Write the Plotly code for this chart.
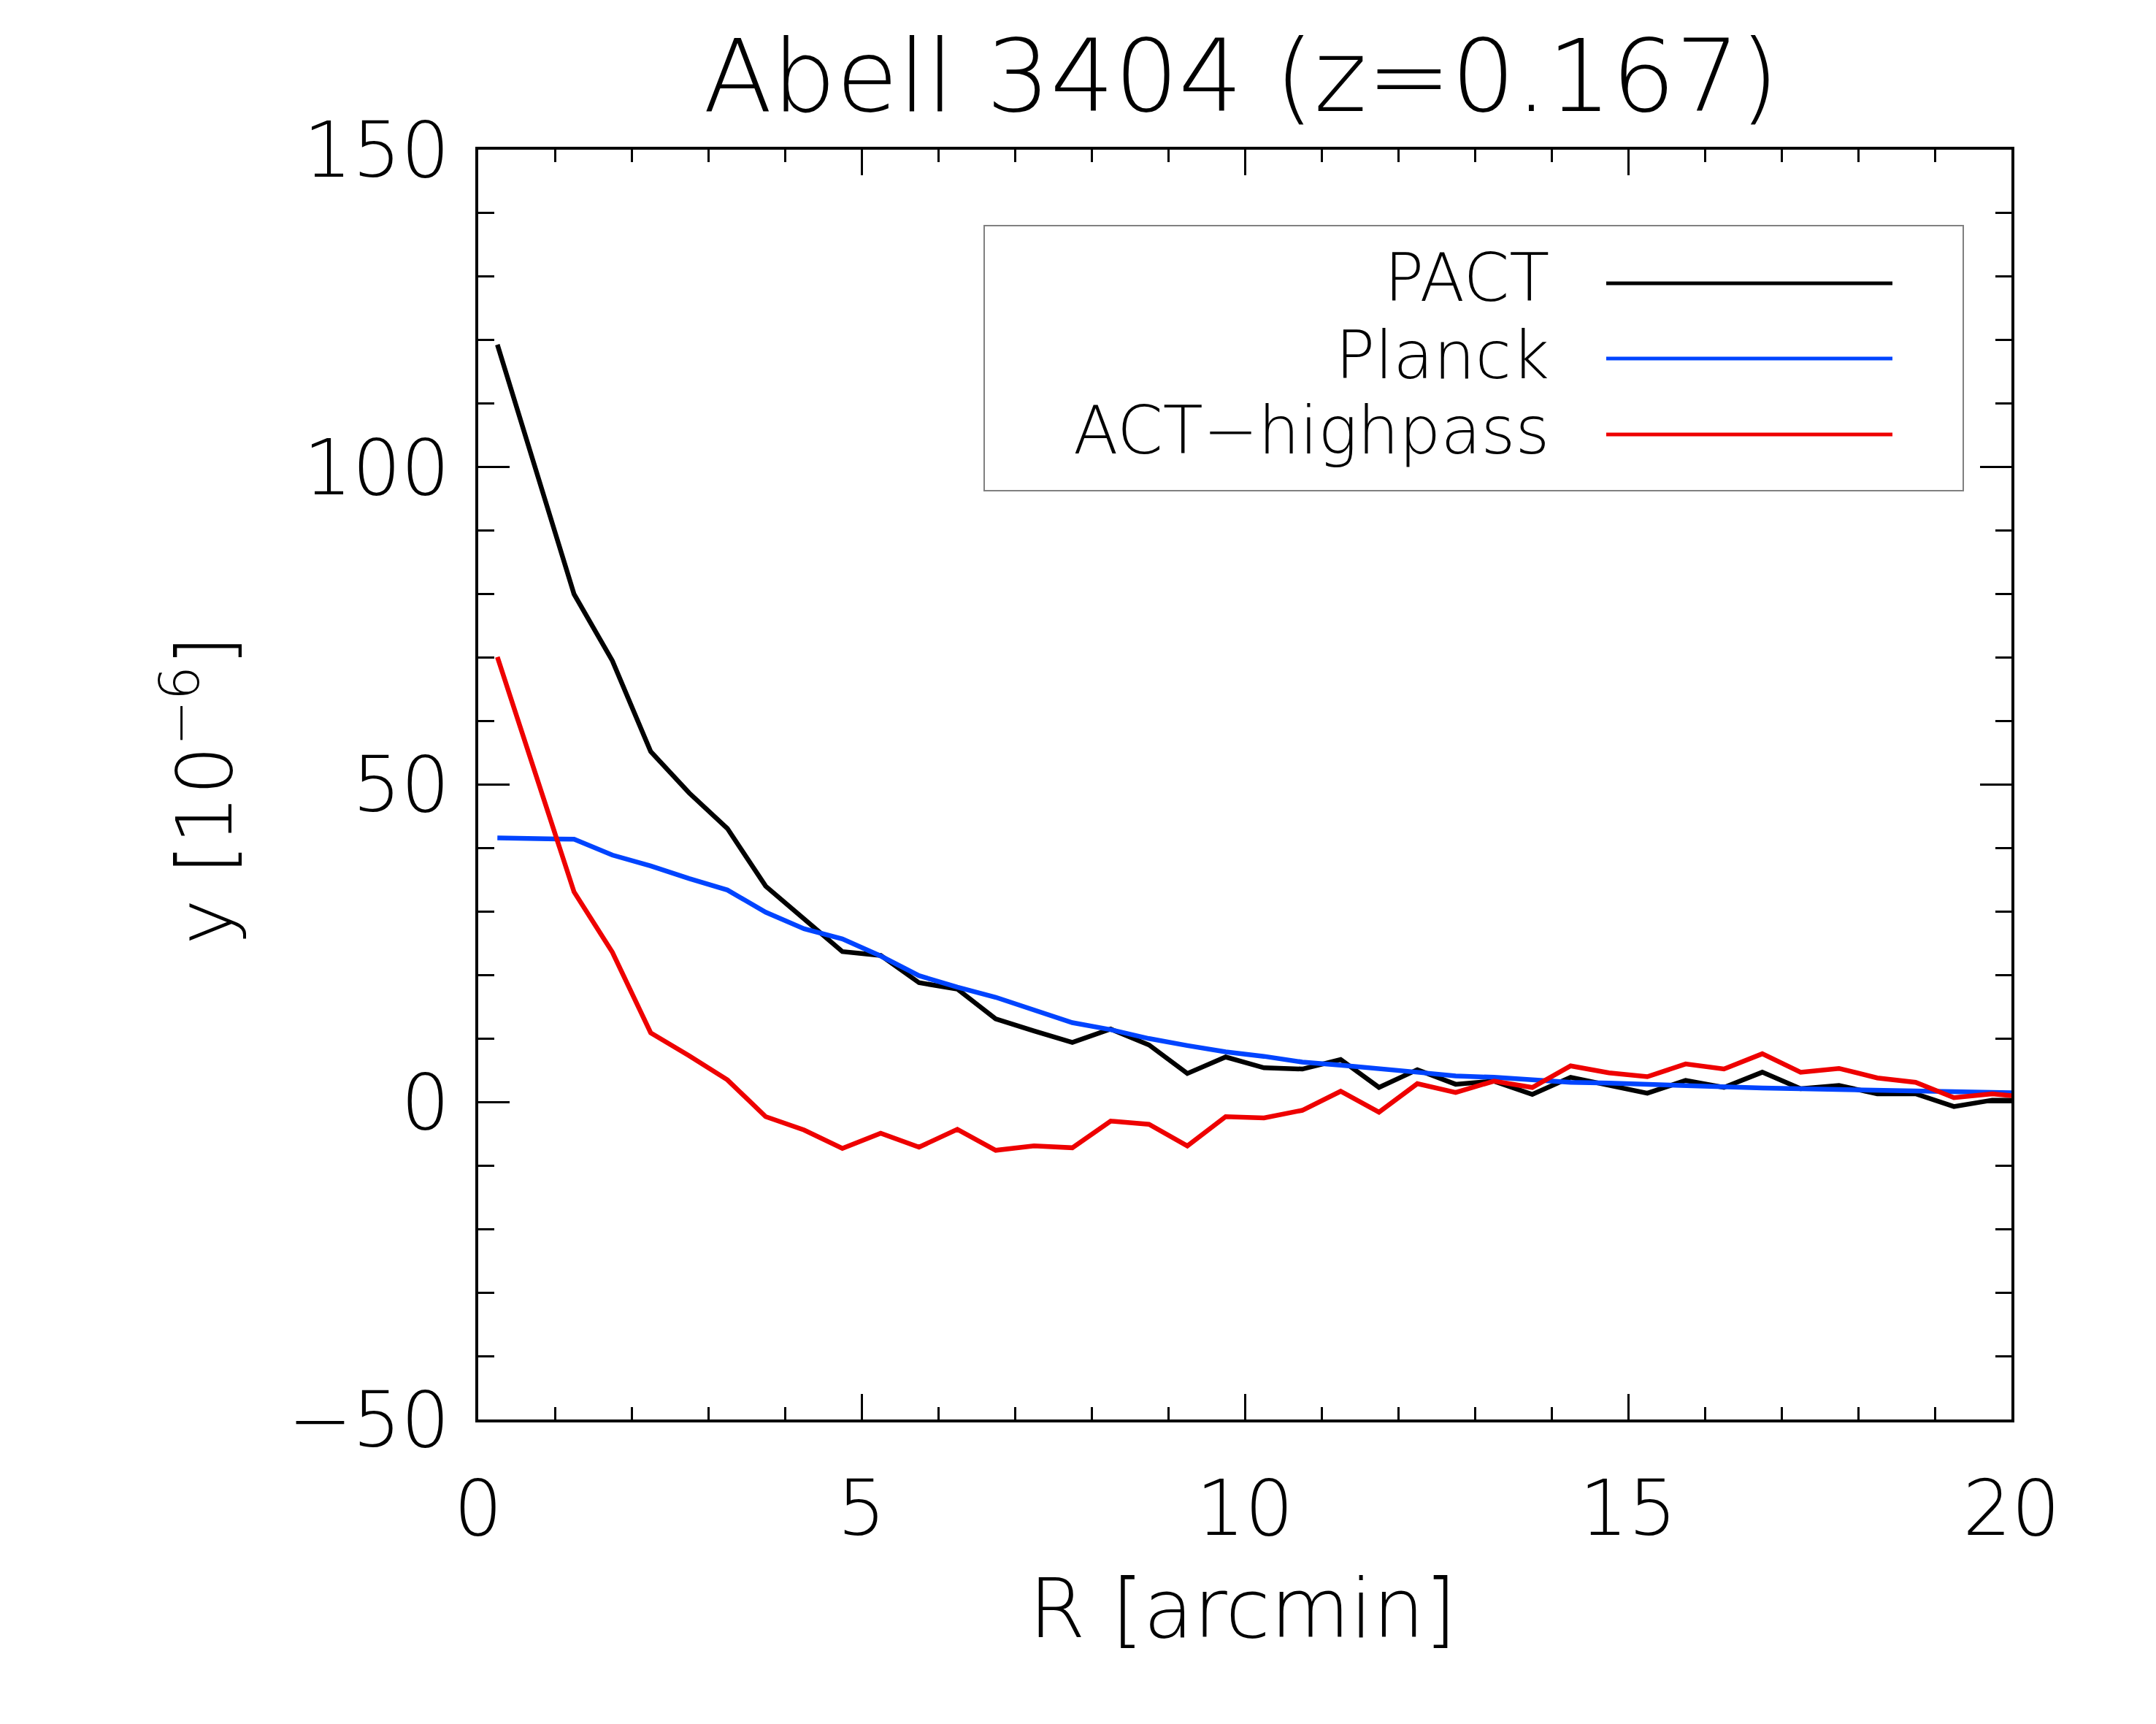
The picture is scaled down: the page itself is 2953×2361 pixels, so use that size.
import plotly.graph_objects as go

# ---------------- data ----------------
R_arcmin = [0.25, 0.75, 1.25, 1.75, 2.25, 2.75, 3.25, 3.75, 4.25, 4.75,
            5.25, 5.75, 6.25, 6.75, 7.25, 7.75, 8.25, 8.75, 9.25, 9.75,
            10.25, 10.75, 11.25, 11.75, 12.25, 12.75, 13.25, 13.75, 14.25, 14.75,
            15.25, 15.75, 16.25, 16.75, 17.25, 17.75, 18.25, 18.75, 19.25, 19.75,
            20.25]

pact_y = [119.3, 99.8, 80.0, 69.5, 55.2, 48.7, 43.1, 34.0, 28.8, 23.7,
          23.1, 18.8, 17.8, 13.1, 11.2, 9.4, 11.5, 9.0, 4.5, 7.1,
          5.4, 5.2, 6.7, 2.3, 5.1, 2.8, 3.3, 1.2, 3.9, 2.6,
          1.4, 3.4, 2.3, 4.7, 2.1, 2.6, 1.3, 1.3, -0.7, 0.3,
          0.3]

planck_y = [41.6, 41.5, 41.4, 38.9, 37.2, 35.2, 33.4, 29.9, 27.3, 25.7,
            23.0, 19.9, 18.1, 16.5, 14.5, 12.5, 11.4, 10.0, 8.9, 7.9,
            7.2, 6.3, 5.8, 5.3, 4.7, 4.1, 3.9, 3.5, 3.1, 3.0,
            2.8, 2.6, 2.3, 2.2, 2.1, 1.95, 1.8, 1.7, 1.6, 1.5,
            1.4]

act_hp_y = [70.1, 51.5, 33.1, 23.6, 10.9, 7.3, 3.5, -2.3, -4.4, -7.3,
            -4.9, -7.1, -4.3, -7.6, -6.9, -7.2, -3.0, -3.5, -6.9, -2.3,
            -2.5, -1.3, 1.7, -1.6, 2.9, 1.5, 3.3, 2.3, 5.7, 4.6,
            4.0, 6.0, 5.2, 7.6, 4.7, 5.3, 3.8, 3.1, 0.7, 1.3,
            0.7]

series_names = ["PACT", "Planck", "ACT\u2212highpass"]
series_values = [pact_y, planck_y, act_hp_y]
series_colors = ["#000000", "#0044ff", "#ee0000"]

x_tick_vals = [0, 5, 10, 15, 20]
y_tick_vals = [-50, 0, 50, 100, 150]

title_text = "Abell 3404 (z=0.167)"
x_title = "R [arcmin]"
y_title = "y [10<sup>\u22126</sup>]"

# ---------------- figure ----------------
W, H = 2953, 2361
ML, MR, MT, MB = 655, 198, 205, 417
FONT = "DejaVu Sans"

fig = go.Figure()
for name, vals, col in zip(series_names, series_values, series_colors):
    fig.add_trace(go.Scatter(x=R_arcmin, y=vals, mode="lines", name=name,
                             line=dict(color=col, width=6.5), showlegend=False))

axis_common = dict(
    showgrid=False, zeroline=False, showline=True, linecolor="black",
    linewidth=4, mirror="allticks", ticks="inside", tickcolor="black",
    tickwidth=3,
    tickfont=dict(family=FONT, size=105, color="black", weight=200),
)

fig.update_xaxes(range=[0, 20], tickvals=x_tick_vals, ticklen=35,
                 minor=dict(dtick=1, ticks="inside", ticklen=17, tickwidth=3,
                            tickcolor="black", showgrid=False),
                 ticklabelstandoff=28, **axis_common)
fig.update_yaxes(range=[-50, 150], tickvals=y_tick_vals, ticklen=43,
                 minor=dict(dtick=10, ticks="inside", ticklen=22, tickwidth=3,
                            tickcolor="black", showgrid=False),
                 ticklabelstandoff=14, **axis_common)

PW = W - ML - MR
PH = H - MT - MB

def px_to_paper_x(px):
    return (px - ML) / PW

def px_to_paper_y(py):
    return (H - MB - py) / PH

annotations = []
annotations.append(dict(text=x_title, xref="paper", yref="paper",
                        x=px_to_paper_x(1702), y=px_to_paper_y(2203),
                        xanchor="center", yanchor="middle", showarrow=False,
                        font=dict(family=FONT, size=112, color="black", weight=200)))
annotations.append(dict(text=y_title, xref="paper", yref="paper",
                        x=px_to_paper_x(272), y=px_to_paper_y(1083),
                        xanchor="center", yanchor="middle", showarrow=False,
                        textangle=-90,
                        font=dict(family=FONT, size=106, color="black", weight=200)))

shapes = []
legend_text_y = [380, 486, 589]
legend_line_y = [388, 491, 595]
for name, col, ty, ly in zip(series_names, series_values and series_colors, legend_text_y, legend_line_y):
    annotations.append(dict(text=name, xref="paper", yref="paper",
                            x=px_to_paper_x(2124), y=px_to_paper_y(ty),
                            xanchor="right", yanchor="middle", showarrow=False,
                            font=dict(family=FONT, size=90, color="black", weight=200)))
    shapes.append(dict(type="line", xref="paper", yref="paper",
                       x0=px_to_paper_x(2200), x1=px_to_paper_x(2592),
                       y0=px_to_paper_y(ly), y1=px_to_paper_y(ly),
                       line=dict(color=col, width=5)))
shapes.append(dict(type="rect", xref="paper", yref="paper",
                   x0=px_to_paper_x(1348), x1=px_to_paper_x(2689),
                   y0=px_to_paper_y(672), y1=px_to_paper_y(309),
                   line=dict(color="#808080", width=2), fillcolor="rgba(0,0,0,0)"))

fig.update_layout(
    width=W, height=H,
    margin=dict(l=ML, r=MR, t=MT, b=MB, pad=0),
    paper_bgcolor="white", plot_bgcolor="white",
    title=dict(text=title_text, x=1700 / W,
               xanchor="center", y=1 - 104 / H, yanchor="middle",
               xref="container", yref="container",
               font=dict(family=FONT, size=138, color="black", weight=200)),
    annotations=annotations,
    shapes=shapes,
    showlegend=False,
)

fig.write_html("out.html")
